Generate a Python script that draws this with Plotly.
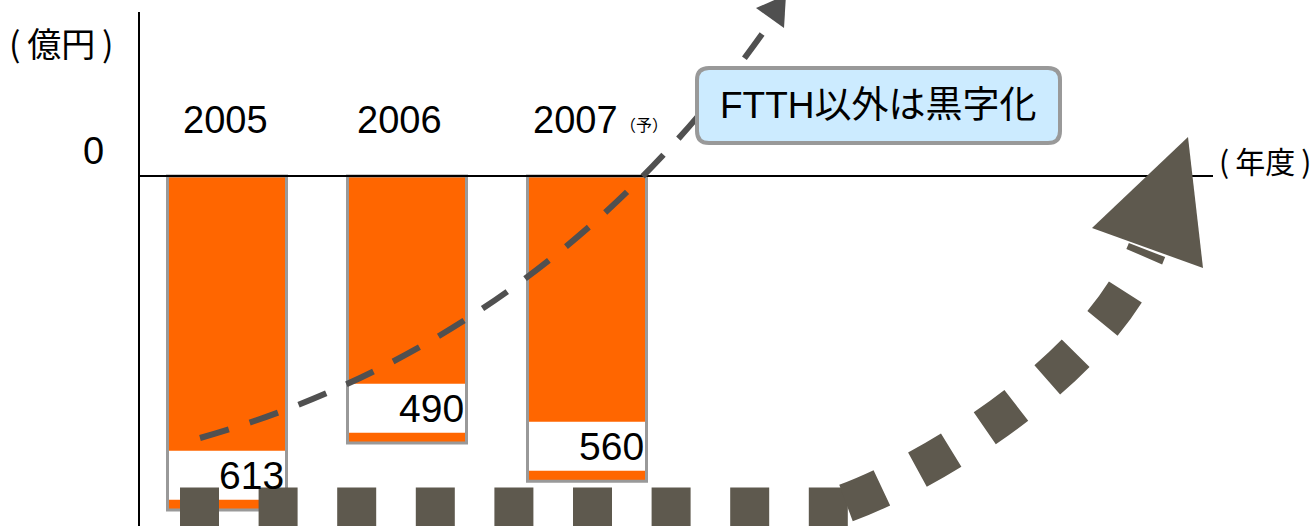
import plotly.graph_objects as go

# ---- data ----
years = ["2005", "2006", "2007"]
losses = [613, 490, 560]          # 億円 (loss, drawn downward)
forecast_mark = ["", "", "（予）"]

# ---- styling / layout constants ----
W, H = 1312, 526
ORANGE = "#FF6600"
BORDER = "#999999"
DOT = "#5E594E"
DASH = "#505050"
FONT = "Liberation Sans, Arial, Noto Sans CJK JP"
CJK = "Noto Sans CJK JP, Liberation Sans"
TS = "\u2009"            # thin space

px_per_unit = 0.545      # vertical scale
zero_px = 176            # pixel row of value 0
first_center_px = 227
spacing_px = 180
bar_w_px = 119
strip_units = 19         # orange strip under white label band
band_units = 90          # white label band height

xs = list(range(len(years)))
neg = [-v for v in losses]

fig = go.Figure()

fig.add_trace(go.Bar(
    x=xs, y=neg, width=bar_w_px / spacing_px,
    marker=dict(color=ORANGE, line=dict(color=BORDER, width=3)),
    hoverinfo="skip", showlegend=False))

fig.add_trace(go.Bar(
    x=xs, y=[band_units] * len(xs),
    base=[-(v - strip_units) for v in losses],
    width=(bar_w_px - 3) / spacing_px,
    marker=dict(color="white", line=dict(width=0)),
    hoverinfo="skip", showlegend=False))

fig.add_trace(go.Scatter(x=[0, W], y=[0, H], xaxis="x2", yaxis="y2",
                         mode="markers", marker=dict(opacity=0),
                         hoverinfo="skip", showlegend=False))

shapes = []
shapes.append(dict(type="line", xref="x2", yref="y2", x0=139, x1=139, y0=12, y1=H + 5,
                   line=dict(color="black", width=2)))
shapes.append(dict(type="line", xref="x2", yref="y", x0=139, x1=1213, y0=0, y1=0,
                   line=dict(color="black", width=2), layer="above"))

dash_curve = [(200, 438), (440, 370), (630, 225), (772, 20)]
p = dash_curve
shapes.append(dict(type="path", xref="x2", yref="y2", layer="above",
                   path=f"M {p[0][0]},{p[0][1]} C {p[1][0]},{p[1][1]} {p[2][0]},{p[2][1]} {p[3][0]},{p[3][1]}",
                   line=dict(color=DASH, width=6, dash="30px,22px")))
dash_head = [(756, 8), (786, -5), (784, 28)]
shapes.append(dict(type="path", xref="x2", yref="y2", layer="above",
                   path="M " + " L ".join(f"{a},{b}" for a, b in dash_head) + " Z",
                   fillcolor=DASH, line=dict(width=0)))

bx0, bx1, by0, by1, r = 697, 1060, 68, 143, 12
shapes.append(dict(type="path", xref="x2", yref="y2", layer="above",
                   path=(f"M {bx0+r},{by0} L {bx1-r},{by0} Q {bx1},{by0} {bx1},{by0+r} "
                         f"L {bx1},{by1-r} Q {bx1},{by1} {bx1-r},{by1} L {bx0+r},{by1} "
                         f"Q {bx0},{by1} {bx0},{by1-r} L {bx0},{by0+r} Q {bx0},{by0} {bx0+r},{by0} Z"),
                   fillcolor="#CCEBFF", line=dict(color=BORDER, width=4)))

shapes.append(dict(type="path", xref="x2", yref="y2", layer="above",
                   path="M 180,507 L 850,507",
                   line=dict(color=DOT, width=39, dash="39px,39.6px")))
thick_curve = [(846, 503), (930, 472), (1100, 370), (1147, 250)]
q = thick_curve
shapes.append(dict(type="path", xref="x2", yref="y2", layer="above",
                   path=f"M {q[0][0]},{q[0][1]} C {q[1][0]},{q[1][1]} {q[2][0]},{q[2][1]} {q[3][0]},{q[3][1]}",
                   line=dict(color=DOT, width=39, dash="39px,40px")))
thick_head = [(1188, 137), (1092, 228), (1203, 268)]
shapes.append(dict(type="path", xref="x2", yref="y2", layer="above",
                   path="M " + " L ".join(f"{a},{b}" for a, b in thick_head) + " Z",
                   fillcolor=DOT, line=dict(width=0)))

ann = []
ann.append(dict(text=f"({TS}億円{TS})", xref="x2", yref="y2", x=61, y=42, showarrow=False,
                font=dict(size=34, color="black", family=CJK)))
ann.append(dict(text="0", xref="x2", yref="y", x=106, y=0, xanchor="right", yanchor="bottom",
                yshift=2, showarrow=False, font=dict(size=38, color="black", family=FONT)))
ann.append(dict(text=f"({TS}年度{TS})", xref="x2", yref="y2", x=1265, y=160, showarrow=False,
                font=dict(size=30, color="black", family=CJK)))
label_shift = [-2, -8, -12]
for i, yr in enumerate(years):
    ann.append(dict(text=yr, xref="x", yref="y2", x=xs[i], y=120, xshift=label_shift[i],
                    showarrow=False, font=dict(size=38, color="black", family=FONT)))
    if forecast_mark[i]:
        ann.append(dict(text=forecast_mark[i], xref="x", yref="y2", x=xs[i], y=124,
                        xshift=57, showarrow=False,
                        font=dict(size=16, color="black", family=CJK)))
    ann.append(dict(text=str(losses[i]), xref="x", yref="y",
                    x=xs[i] + bar_w_px / spacing_px / 2,
                    y=-(losses[i] - strip_units - band_units / 2),
                    xanchor="right", xshift=-1, showarrow=False,
                    font=dict(size=39, color="black", family=FONT)))
ann.append(dict(text="FTTH以外は黒字化", xref="x2", yref="y2", x=(bx0 + bx1) / 2,
                y=(by0 + by1) / 2, showarrow=False,
                font=dict(size=37, color="black", family=FONT)))

fig.update_layout(
    width=W, height=H, margin=dict(l=0, r=0, t=0, b=0),
    paper_bgcolor="white", plot_bgcolor="white",
    barmode="overlay", showlegend=False,
    xaxis=dict(range=[-first_center_px / spacing_px, (W - first_center_px) / spacing_px],
               visible=False, fixedrange=True),
    yaxis=dict(range=[-(H - zero_px) / px_per_unit, zero_px / px_per_unit],
               visible=False, fixedrange=True),
    xaxis2=dict(range=[0, W], overlaying="x", visible=False, anchor="y2"),
    yaxis2=dict(range=[H, 0], overlaying="y", visible=False, anchor="x2"),
    shapes=shapes, annotations=ann,
)

fig.write_html("out.html", config={"displayModeBar": False},
               post_script="document.body.style.margin='0';document.body.style.overflow='hidden';")
